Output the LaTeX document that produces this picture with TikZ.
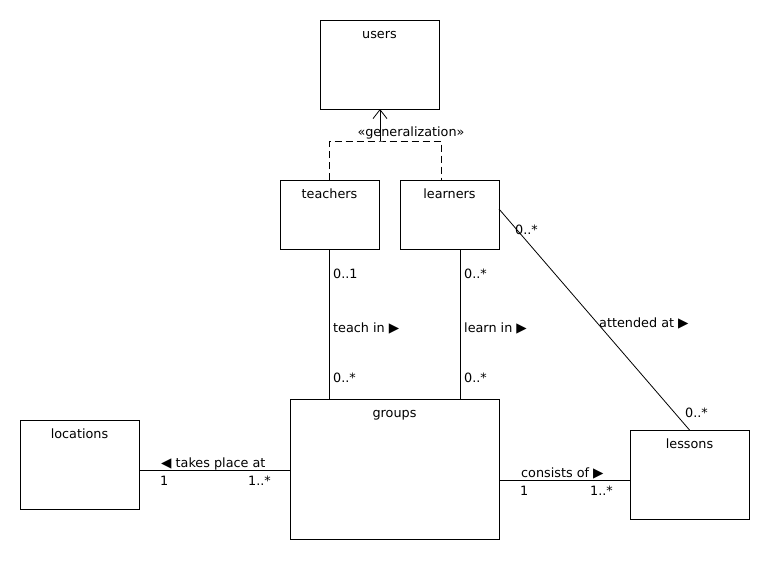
\documentclass[tikz,border=0pt]{standalone}
\usepackage{fontspec}
\setmainfont{DejaVu Sans}
\usetikzlibrary{arrows.meta}
\newcommand{\rtri}{{\fontsize{13.5}{14}\selectfont ▶}}
\newcommand{\ltri}{{\fontsize{13.5}{14}\selectfont ◀}}
\begin{document}
\begin{tikzpicture}[x=1pt,y=-1pt,
  every node/.style={font=\fontsize{12.8}{14}\selectfont},
  cls/.style={draw, line width=0.9pt, rectangle, inner sep=0pt, outer sep=0pt, anchor=north west},
  title/.style={anchor=base},
  lbl/.style={anchor=base west, inner sep=0pt},
  assoc/.style={line width=0.8pt},
  gen/.style={line width=0.8pt, dash pattern=on 7pt off 4pt},
  genarrow/.style={line width=0.8pt, -{Straight Barb[length=9pt,width=14pt]}}]
\useasboundingbox (0,0) rectangle (770,560);

% classes
\node[cls, minimum width=119pt, minimum height=89pt] (users) at (320,20) {};
\node[title] at ([yshift=-18pt]users.north) {users};
\node[cls, minimum width=99pt, minimum height=69pt] (teachers) at (280,180) {};
\node[title] at ([yshift=-18pt]teachers.north) {teachers};
\node[cls, minimum width=99pt, minimum height=69pt] (learners) at (400,180) {};
\node[title] at ([yshift=-18pt]learners.north) {learners};
\node[cls, minimum width=209pt, minimum height=140pt] (groups) at (290,399) {};
\node[title] at ([yshift=-18pt]groups.north) {groups};
\node[cls, minimum width=119pt, minimum height=89pt] (locations) at (20,420) {};
\node[title] at ([yshift=-18pt]locations.north) {locations};
\node[cls, minimum width=119pt, minimum height=89pt] (lessons) at (630,430) {};
\node[title] at ([yshift=-18pt]lessons.north) {lessons};

% generalization
\coordinate (g) at (380,141);
\draw[gen] (teachers.north) |- (g) -| ([xshift=-8.5pt]learners.north);
\draw[genarrow] (g) -- (g |- users.south);
\node[anchor=base, inner sep=0pt] (genlbl) at (411,136) {«generalization»};

% teachers -- groups
\draw[assoc] (teachers.south) -- (teachers.south |- groups.north);
\node[lbl] at (333,278) {0..1};
\node[lbl] at (333,332) {teach in \rtri};
\node[lbl] at (333,382) {0..*};

% learners -- groups
\coordinate (lg) at ([xshift=10.5pt]learners.south);
\draw[assoc] (lg) -- (lg |- groups.north);
\node[lbl] at (464,278) {0..*};
\node[lbl] at (464,332) {learn in \rtri};
\node[lbl] at (464,382) {0..*};

% learners -- lessons
\draw[assoc] ([yshift=-29pt]learners.north east) -- (lessons.north);
\node[lbl] at (515,234) {0..*};
\node[lbl] at (599,327) {attended at \rtri};
\node[lbl] at (685,417) {0..*};

% groups -- locations
\coordinate (lc) at ([yshift=-5.5pt]locations.east);
\draw[assoc] (lc) -- (lc -| groups.west);
\node[lbl] at (161,467) {\ltri\ takes place at};
\node[lbl] at (160,485) {1};
\node[lbl] at (248,485) {1..*};

% groups -- lessons
\coordinate (ls) at ([yshift=-5.5pt]lessons.west);
\draw[assoc] (ls -| groups.east) -- (ls);
\node[lbl] at (521,477) {consists of \rtri};
\node[lbl] at (520,495) {1};
\node[lbl] at (590,495) {1..*};
\end{tikzpicture}
\end{document}
